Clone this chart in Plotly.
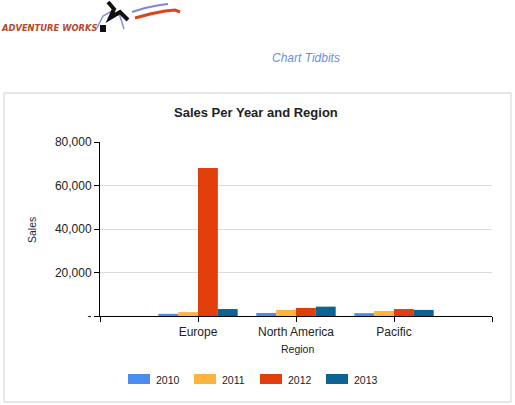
import plotly.graph_objects as go

regions = ["Europe", "North America", "Pacific"]
years = ["2010", "2011", "2012", "2013"]
sales_2010 = [1000, 1400, 1300]
sales_2011 = [1800, 2800, 2300]
sales_2012 = [68000, 3700, 3200]
sales_2013 = [3200, 4300, 2800]
series = [sales_2010, sales_2011, sales_2012, sales_2013]
colors = ["#4a8cf0", "#fdb43f", "#e03f0b", "#0b6494"]
y_ticks = [0, 20000, 40000, 60000, 80000]
y_tick_text = ["-", "20,000", "40,000", "60,000", "80,000"]

W, H = 515, 405
L, R, T, B = 100, 492, 142, 316


def px(x):
    return (x - L) / (R - L)


def py(y):
    return (B - y) / (B - T)


xpos = list(range(len(regions)))
fig = go.Figure()
for yr, vals, col in zip(years, series, colors):
    fig.add_trace(go.Bar(x=xpos, y=vals, name=yr, marker=dict(color=col, line=dict(width=0)),
                         showlegend=False))

font_main = "Arial, 'Liberation Sans', sans-serif"
shapes = []
annotations = []

# panel border
shapes.append(dict(type="rect", xref="paper", yref="paper", x0=px(4), x1=px(511), y0=py(402), y1=py(93),
                   line=dict(color="#cfcfcf", width=1), fillcolor="rgba(0,0,0,0)", layer="below"))

# chart title
annotations.append(dict(text="<b>Sales Per Year and Region</b>", xref="paper", yref="paper",
                        x=px(256), y=py(112), showarrow=False, xanchor="center", yanchor="middle",
                        font=dict(family=font_main, size=13, color="#222222")))
# axis titles
annotations.append(dict(text="Sales", xref="paper", yref="paper", x=px(32), y=py(230), textangle=-90,
                        showarrow=False, xanchor="center", yanchor="middle",
                        font=dict(family=font_main, size=10.5, color="#1a2747")))
annotations.append(dict(text="Region", xref="paper", yref="paper", x=px(297), y=py(349),
                        showarrow=False, xanchor="center", yanchor="middle",
                        font=dict(family=font_main, size=10.5, color="#222222")))

# custom legend
leg_x = [128, 194, 260, 326]
for i, (yr, col) in enumerate(zip(years, colors)):
    x0 = leg_x[i]
    shapes.append(dict(type="rect", xref="paper", yref="paper", x0=px(x0), x1=px(x0 + 22),
                       y0=py(384), y1=py(374), fillcolor=col, line=dict(width=0)))
    annotations.append(dict(text=yr, xref="paper", yref="paper", x=px(x0 + 26), y=py(379.5),
                            showarrow=False, xanchor="left", yanchor="middle",
                            font=dict(family=font_main, size=10.5, color="#222222")))

# header: "Chart Tidbits"
annotations.append(dict(text="<i>Chart Tidbits</i>", xref="paper", yref="paper", x=px(306), y=py(58),
                        showarrow=False, xanchor="center", yanchor="middle",
                        font=dict(family=font_main, size=12, color="#6b8fe0")))
# header: logo text
annotations.append(dict(text="<i><b>ADVENTURE WORKS</b></i>", xref="paper", yref="paper", x=px(-1), y=py(27),
                        showarrow=False, xanchor="left", yanchor="middle",
                        font=dict(family="'Liberation Sans Narrow', 'DejaVu Sans Condensed', sans-serif",
                                  size=9.3, color="#b4482a")))


def path(points):
    s = "M " + " L ".join(f"{px(x):.4f},{py(y):.4f}" for x, y in points)
    return s


# logo decoration (approximate)
shapes.append(dict(type="path", xref="paper", yref="paper",
                   path=path([(135, 18), (150, 14), (165, 11), (175, 10), (180, 12)]),
                   line=dict(color="#d9461e", width=3)))
shapes.append(dict(type="path", xref="paper", yref="paper",
                   path=path([(132, 12), (145, 8), (160, 5), (168, 4)]),
                   line=dict(color="#7f86d8", width=2)))
shapes.append(dict(type="path", xref="paper", yref="paper",
                   path=path([(97, 28), (103, 16), (112, 11), (120, 16), (124, 29)]),
                   line=dict(color="#8a90d8", width=1.5)))
shapes.append(dict(type="path", xref="paper", yref="paper",
                   path=path([(108, 2), (114, 9), (110, 18), (120, 12), (128, 20)]),
                   line=dict(color="#111111", width=4)))
shapes.append(dict(type="rect", xref="paper", yref="paper", x0=px(100), x1=px(106), y0=py(32), y1=py(25),
                   fillcolor="#111111", line=dict(width=0)))

fig.update_layout(
    width=W, height=H,
    margin=dict(l=L, r=W - R, t=T, b=H - B, pad=0),
    paper_bgcolor="white", plot_bgcolor="white",
    barmode="group", bargap=0.19, bargroupgap=0,
    shapes=shapes, annotations=annotations,
    showlegend=False,
    xaxis=dict(range=[-1, len(regions)], tickmode="array",
               tickvals=[-1] + xpos + [len(regions)],
               ticktext=[""] + regions + [""],
               showgrid=False, zeroline=False, showline=True, linecolor="black", linewidth=1,
               ticks="outside", ticklen=5, tickcolor="black",
               tickfont=dict(family=font_main, size=12, color="#222222")),
    yaxis=dict(range=[0, 80000], tickmode="array", tickvals=y_ticks, ticktext=y_tick_text,
               showgrid=True, gridcolor="#dcdcdc", gridwidth=1, zeroline=False,
               showline=True, linecolor="black", linewidth=1,
               ticks="outside", ticklen=5, tickcolor="black",
               tickfont=dict(family=font_main, size=12, color="#222222")),
)

fig.write_html("out.html")
